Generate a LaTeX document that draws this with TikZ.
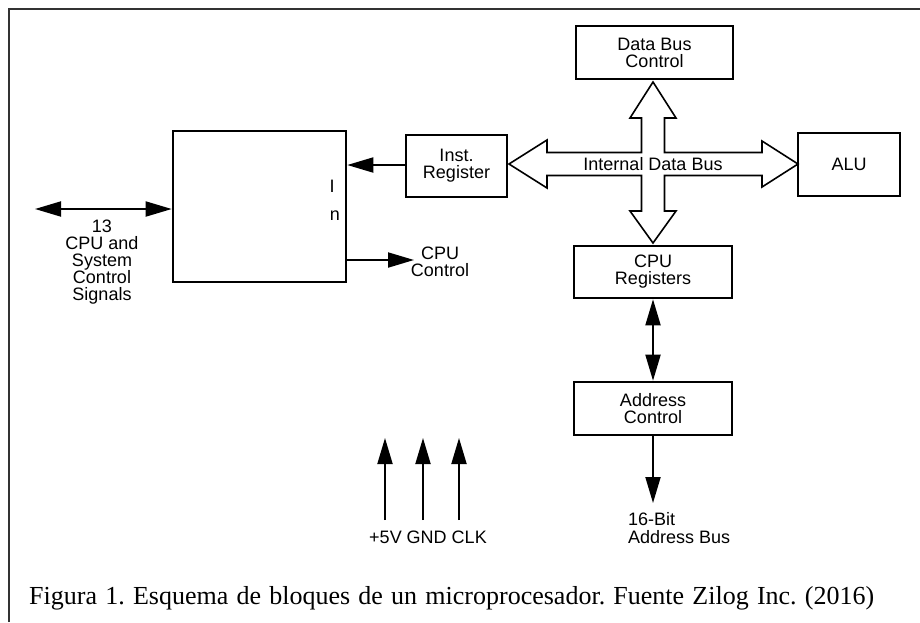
\documentclass[tikz,border=0pt]{standalone}
\usepackage{fontspec}
\setmainfont{Liberation Sans}
\newfontfamily\capfont{Liberation Serif}
\usetikzlibrary{arrows.meta,calc}

\tikzset{
  blk/.style={draw, line width=2.6pt, inner sep=0pt, align=center,
              font=\fontsize{18}{17}\selectfont},
  lab/.style={inner sep=0pt, align=center, font=\fontsize{18}{17}\selectfont},
  arr/.style={-{Triangle[length=26pt,width=15pt]}, line width=1.9pt},
  arrtwo/.style={{Triangle[length=26pt,width=15pt]}-{Triangle[length=26pt,width=15pt]}, line width=1.9pt},
  busline/.style={draw, line width=1.6pt, fill=white, line join=miter},
  frameline/.style={draw=black!80, line width=1.6pt}
}

\begin{document}
\begin{tikzpicture}[x=1pt, y=-1pt]
\useasboundingbox (0,0) rectangle (920,622);

% page frame (left and top edges)
\draw[frameline] (9,622) -- (9,9) -- (920,9);

% blocks
\node[blk, minimum width=173pt, minimum height=151pt] (ctl) at (259.5,206.5) {};
\node[blk, minimum width=101pt, minimum height=62pt] (ir)  at (456.5,166) {Inst.\\Register};
\node[blk, minimum width=157pt, minimum height=53pt] (dbc) at (654.5,52.5) {Data Bus\\Control};
\node[blk, minimum width=102pt, minimum height=63pt] (alu) at (849,164.5) {ALU};
\node[blk, minimum width=158pt, minimum height=52pt] (reg) at (653,272) {CPU\\Registers};
\node[blk, minimum width=158pt, minimum height=53pt] (adr) at (653,408.5) {Address\\Control};

% letters inside the control block
\node[lab] (li) at (332,186) {I};
\node[lab] (ln) at (335,216) {n};

% internal data bus (cross-shaped double arrow)
\path[busline]
  (509,164) -- (547,140) -- (547,152.5) -- (641.5,152.5) -- (641.5,118)
  -- (630,118) -- (653,82) -- (676,118) -- (664.5,118) -- (664.5,152.5)
  -- (762,152.5) -- (762,141) -- (798,164) -- (762,187) -- (762,175.5)
  -- (664.5,175.5) -- (664.5,211) -- (676,211) -- (653,243) -- (630,211)
  -- (641.5,211) -- (641.5,175.5) -- (547,175.5) -- (547,188) -- cycle;
\node[lab] (bus) at (653,164) {Internal Data Bus};

% instruction register to control block
\coordinate (irl) at (ir.west |- 0,165);
\draw[arr] (irl) -- (irl -| ctl.east);

% control outputs
\coordinate (cctip) at (414,260);
\draw[arr] (ctl.east |- cctip) -- (cctip);
\node[lab] (cclab) at (440,262) {CPU\\Control};

% system control signals
\coordinate (sigl) at (35,209);
\draw[arrtwo] (sigl) -- (sigl -| ctl.west);
\node[lab] (siglab) at (102,262) {13\\CPU and\\System\\Control\\Signals};

% registers and address path
\draw[arrtwo] (reg.south) -- (adr.north);
\coordinate (abus) at (653,503);
\draw[arr] (adr.south) -- (abus);
\node[lab, align=left, anchor=north west, font=\fontsize{18}{18}\selectfont] (ablab) at (628,512) {16-Bit\\Address Bus};

% power and clock inputs
\coordinate (v5b) at (385,520);
\coordinate (v5t) at (385,438);
\coordinate (gndb) at (423,520);
\coordinate (gndt) at (423,438);
\coordinate (clkb) at (459,520);
\coordinate (clkt) at (459,438);
\draw[arr] (v5b) -- (v5t);
\draw[arr] (gndb) -- (gndt);
\draw[arr] (clkb) -- (clkt);
\node[lab] (pwr) at (428,537) {+5V GND CLK};

% caption
\node[anchor=base west, inner sep=0pt, font=\capfont\fontsize{26}{30}\selectfont\frenchspacing] (cap) at (29,604)
  {\hbox to 845pt{Figura 1. Esquema de bloques de un microprocesador. Fuente Zilog Inc. (2016)}};
\end{tikzpicture}
\end{document}
